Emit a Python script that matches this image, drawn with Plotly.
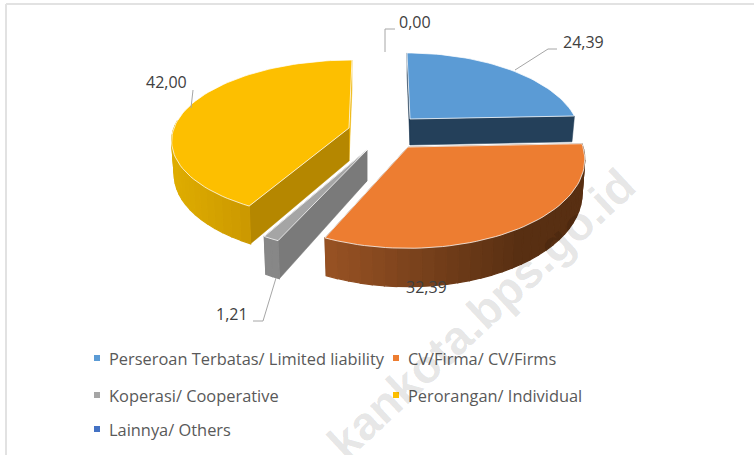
import math
import plotly.graph_objects as go

categories = ["Perseroan Terbatas/ Limited liability", "CV/Firma/ CV/Firms",
              "Koperasi/ Cooperative", "Perorangan/ Individual", "Lainnya/ Others"]
values = [24.39, 32.39, 1.21, 42.00, 0.00]
value_labels = ["24,39", "32,39", "1,21", "42,00", "0,00"]
colors = ["#5B9BD5", "#ED7D31", "#A5A5A5", "#FDBF00", "#4472C4"]
watermark = "kankota.bps.go.id"

# exploded-slice geometry in pixels: apex x, apex y, radius x, radius y, perspective, depth, shear
geom = {
    0: (410, 119, 166, 79.6, 0.205, 26, 3.6),
    1: (408, 147, 175, 87.0, 0.141, 33, 0.0),
    2: (367, 150, 175, 81.0, 0.205, 31, 0.0),
    3: (349, 128, 175, 77.8, 0.144, 33, -3.4),
}
rim_left = {1: (152, 82, 36), 2: (135, 135, 135), 3: (222, 172, 0)}
rim_right = {1: (88, 47, 18), 2: (135, 135, 135), 3: (190, 138, 0)}
rim_span = {1: (325, 520), 2: (0, 1), 3: (175, 300)}
start_face = {0: "#1F3A54", 1: "#5E3114", 2: "#7A7A7A", 3: "#B58700"}
end_face = {0: "#24405A", 1: "#5E3114", 2: "#7A7A7A", 3: "#EDB300"}

total = sum(values)
edges = [0.0]
for val in values:
    edges.append(edges[-1] + val / total * 2 * math.pi)


def proj(i, a, radial=1.0, down=False):
    cx, cy, rx, ry, k, d, sh = geom[i]
    u, v = math.sin(a) * radial, -math.cos(a) * radial
    w = 1 - k * v
    f = 0.985 if down else 1.0
    return (cx + f * rx * u / w + sh * v / w, cy + ry * v / w + (d / w if down else 0))


fig = go.Figure()


def poly(points, fill, line=None, width=1.2):
    xs = [p[0] for p in points] + [points[0][0]]
    ys = [p[1] for p in points] + [points[0][1]]
    fig.add_trace(go.Scatter(x=xs, y=ys, mode="lines", fill="toself", fillcolor=fill,
                             line=dict(color=line or fill, width=width),
                             hoverinfo="skip", showlegend=False))


for i in [0, 3, 2, 1]:
    a0, a1 = edges[i], edges[i + 1]
    # flat cut walls
    for a, col in ((a1, end_face[i]), (a0, start_face[i])):
        poly([proj(i, a, 0.0), proj(i, a), proj(i, a, down=True), proj(i, a, 0.0, down=True)], col, width=0.5)
    # outer wall, shaded from left to right
    if i in rim_left:
        n = max(2, int((a1 - a0) / math.radians(3.5)))
        lo, hi = rim_span[i]
        for s in range(n):
            b0 = a0 + (a1 - a0) * s / n
            b1 = a0 + (a1 - a0) * (s + 1) / n
            if -math.cos((b0 + b1) / 2) < -0.1:
                continue
            px = proj(i, (b0 + b1) / 2)[0]
            t = min(1, max(0, (px - lo) / (hi - lo)))
            c = [round(rim_left[i][j] + (rim_right[i][j] - rim_left[i][j]) * t) for j in range(3)]
            col = f"rgb({c[0]},{c[1]},{c[2]})"
            poly([proj(i, b0), proj(i, b1), proj(i, b1, down=True), proj(i, b0, down=True)], col)
    # top face
    steps = max(2, int((a1 - a0) / math.radians(2)))
    pts = [proj(i, a0, 0.0)] + [proj(i, a0 + (a1 - a0) * s / steps) for s in range(steps + 1)]
    poly(pts, colors[i], line="rgba(255,255,255,0.75)", width=1)

# legend swatches and text
leg_x = [97, 396]
leg_y = [358, 395, 429]
slots = [(0, 0), (1, 0), (0, 1), (1, 1), (0, 2)]
annotations = []
for name, col, (c, r) in zip(categories, colors, slots):
    fig.add_trace(go.Scatter(x=[leg_x[c]], y=[leg_y[r]], mode="markers",
                             marker=dict(symbol="square", size=6, color=col),
                             hoverinfo="skip", showlegend=False))
    annotations.append(dict(x=leg_x[c] + 10, y=leg_y[r], text=name, xanchor="left", yanchor="middle",
                            showarrow=False, font=dict(family="Open Sans", size=16.4, color="#595959")))

# leader lines and data labels
leaders = [
    [(515, 70), (548, 49), (557, 49)],
    [(276, 278), (263, 321), (253, 321)],
    [(193, 90), (191, 108)],
    [(385, 52), (385, 29), (395, 29)],
]
for path in leaders:
    fig.add_trace(go.Scatter(x=[p[0] for p in path], y=[p[1] for p in path], mode="lines",
                             line=dict(color="#A6A6A6", width=1), hoverinfo="skip", showlegend=False))

label_pos = [(583, 42), (426, 287), (232, 314), (166, 82), (415, 22)]
for text, (x, y) in zip(value_labels, label_pos):
    annotations.append(dict(x=x, y=y, text=text, showarrow=False, xanchor="center", yanchor="middle",
                            font=dict(family="Open Sans", size=16, color="#404040")))

annotations.append(dict(x=481, y=313, text=f"<b>{watermark}</b>", textangle=-43, showarrow=False,
                        xanchor="center", yanchor="middle",
                        font=dict(family="Liberation Sans", size=47, color="rgba(0,0,0,0.11)")))

frame = dict(type="line", xref="x", yref="y", line=dict(color="#E2E2E2", width=2))
fig.update_layout(
    width=754, height=455, margin=dict(l=0, r=0, t=0, b=0),
    paper_bgcolor="white", plot_bgcolor="white", showlegend=False,
    xaxis=dict(range=[0, 754], visible=False, fixedrange=True),
    yaxis=dict(range=[455, 0], visible=False, fixedrange=True),
    annotations=annotations,
    shapes=[dict(frame, x0=6, x1=754, y0=4, y1=4), dict(frame, x0=6, x1=6, y0=4, y1=455)],
)
fig.write_html("out.html", config={"displayModeBar": False}, post_script="document.body.style.margin='0';")
